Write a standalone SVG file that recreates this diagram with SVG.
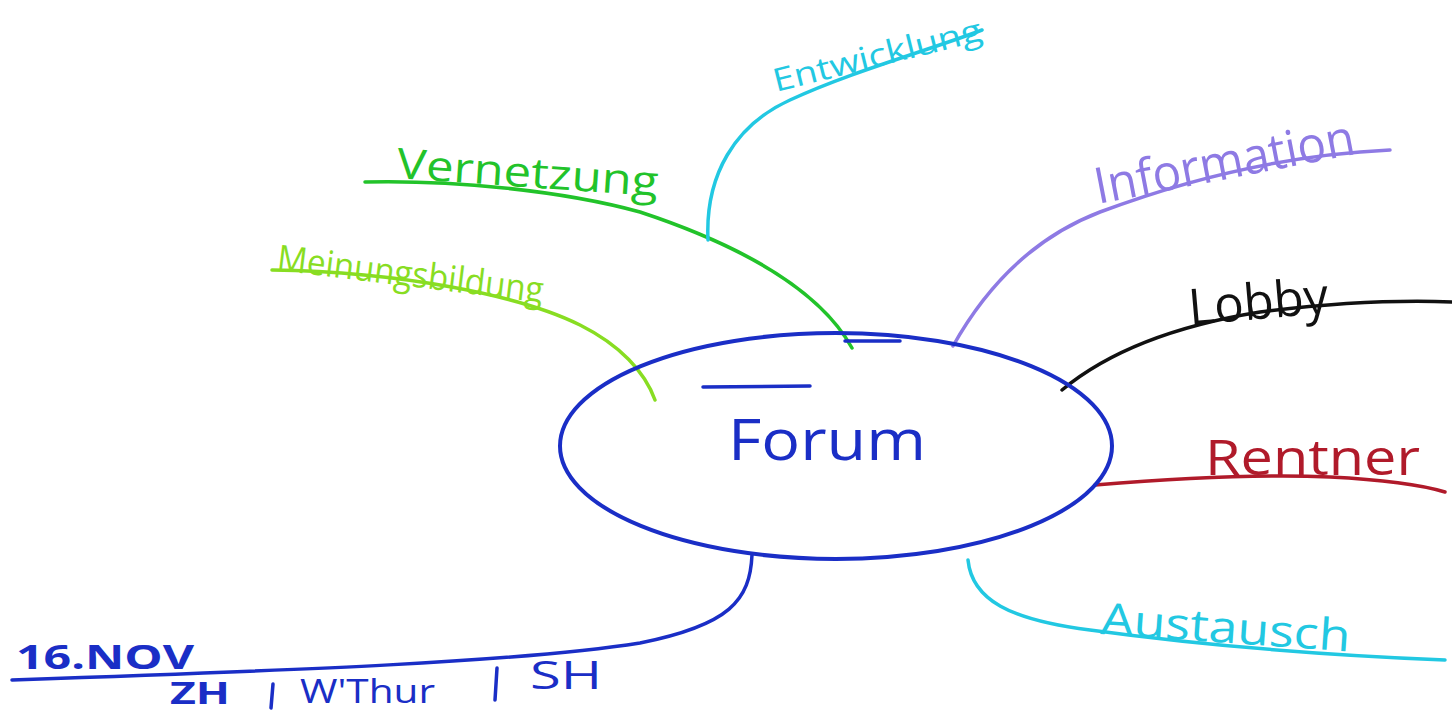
<svg xmlns="http://www.w3.org/2000/svg" width="1452" height="714" viewBox="0 0 1452 714">
<style>
.ln{fill:none;stroke-width:3.5;stroke-linecap:round;stroke-linejoin:round}
.tx{font-family:"Open Sans","Liberation Sans",sans-serif}
</style>
<rect width="1452" height="714" fill="#ffffff"/>
<g id="connectors">
  <path class="ln" stroke="#88dd22" d="M272,270 C400,272 520,295 580,325 C620,345 645,372 655,400"/>
  <path class="ln" stroke="#22c32a" d="M365,182 C450,180 560,190 640,212 C740,245 820,290 852,348"/>
  <path class="ln" stroke="#22c8e2" d="M708,240 C705,175 735,125 790,100 C850,72 930,50 982,30"/>
  <path class="ln" stroke="#8e7ae4" d="M953,346 C990,280 1040,235 1100,212 C1180,182 1280,155 1390,150"/>
  <path class="ln" stroke="#111111" d="M1062,390 C1110,350 1180,325 1260,312 C1340,302 1400,300 1452,302"/>
  <path class="ln" stroke="#b01a2a" d="M1095,485 C1180,478 1260,474 1330,477 C1390,480 1425,486 1445,492"/>
  <path class="ln" stroke="#22c8e2" d="M968,560 C972,600 1010,620 1090,630 C1200,645 1320,655 1445,660"/>
  <path class="ln" stroke="#1a2ec6" d="M752,555 C750,600 730,625 640,643 C520,662 300,670 12,680"/>
  <path class="ln" stroke="#1a2ec6" stroke-width="5" d="M273,684 L271,708"/>
  <path class="ln" stroke="#1a2ec6" stroke-width="5" d="M497,668 L495,700"/>
</g>
<g id="forum">
  <ellipse cx="836" cy="446" rx="276" ry="113" fill="none" stroke="#1a2ec6" stroke-width="4"/>
  <path class="ln" stroke="#1a2ec6" d="M845,341 L900,341"/>
  <path class="ln" stroke="#1a2ec6" d="M703,387 L810,386"/>
  <text class="tx" x="728" y="460" font-size="56" fill="#1a2ec6" textLength="198" lengthAdjust="spacingAndGlyphs">Forum</text>
</g>
<g id="meinungsbildung">
  <text class="tx" x="276" y="270" font-size="36" fill="#88dd22" transform="rotate(7 276 270)" textLength="268" lengthAdjust="spacingAndGlyphs">Meinungsbildung</text>
</g>
<g id="vernetzung">
  <text class="tx" x="396" y="178" font-size="42" fill="#22c32a" transform="rotate(4 396 178)" textLength="262" lengthAdjust="spacingAndGlyphs">Vernetzung</text>
</g>
<g id="entwicklung">
  <text class="tx" x="776" y="92" font-size="32" fill="#22c8e2" transform="rotate(-14 776 92)" textLength="214" lengthAdjust="spacingAndGlyphs">Entwicklung</text>
</g>
<g id="information">
  <text class="tx" x="1098" y="204" font-size="50" fill="#8e7ae4" transform="rotate(-11 1098 204)" textLength="264" lengthAdjust="spacingAndGlyphs">Information</text>
</g>
<g id="lobby">
  <text class="tx" x="1190" y="325" font-size="50" fill="#111111" transform="rotate(-5 1190 325)" textLength="140" lengthAdjust="spacingAndGlyphs">Lobby</text>
</g>
<g id="rentner">
  <text class="tx" x="1205" y="475" font-size="50" fill="#b01a2a" textLength="215" lengthAdjust="spacingAndGlyphs">Rentner</text>
</g>
<g id="austausch">
  <text class="tx" x="1100" y="634" font-size="44" fill="#22c8e2" transform="rotate(4 1100 634)" textLength="250" lengthAdjust="spacingAndGlyphs">Austausch</text>
</g>
<g id="date">
  <text class="tx" x="16" y="669" font-size="34" font-weight="bold" fill="#1a2ec6" textLength="178" lengthAdjust="spacingAndGlyphs">16.NOV</text>
  <text class="tx" x="170" y="704" font-size="30" font-weight="bold" fill="#1a2ec6" textLength="60" lengthAdjust="spacingAndGlyphs">ZH</text>
  <text class="tx" x="300" y="703" font-size="32" fill="#1a2ec6" textLength="135" lengthAdjust="spacingAndGlyphs">W'Thur</text>
  <text class="tx" x="530" y="689" font-size="38" fill="#1a2ec6" textLength="72" lengthAdjust="spacingAndGlyphs">SH</text>
</g>
</svg>
